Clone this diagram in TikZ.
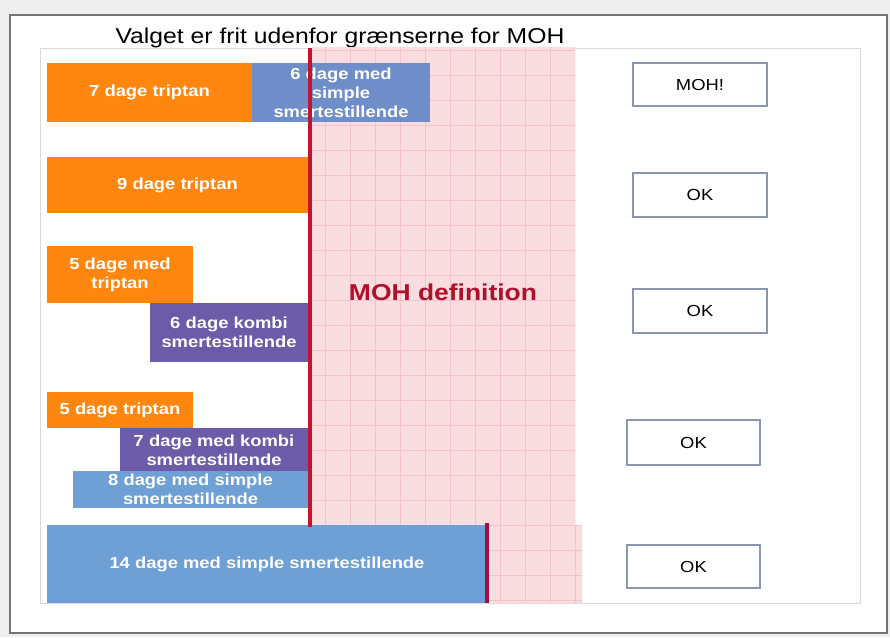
\documentclass[tikz,border=0pt]{standalone}
\usepackage{fontspec}
\setmainfont[FakeStretch=1.15]{Liberation Sans}
\definecolor{orng}{HTML}{FF860F}
\definecolor{purp}{HTML}{6B5BA8}
\definecolor{blueA}{HTML}{6F8DC8}
\definecolor{blueB}{HTML}{6E9FD5}
\definecolor{redl}{HTML}{C4122F}
\definecolor{redd}{HTML}{A0103A}
\definecolor{pinkf}{HTML}{FBDDE0}
\definecolor{pinkg}{HTML}{F3C3CA}
\definecolor{okline}{HTML}{8A96B0}
\definecolor{bggray}{HTML}{EFEFEF}
\begin{document}
\begin{tikzpicture}[x=1pt,y=-1pt,
  barbox/.style={draw=none,inner sep=0pt,align=center,text=white,
    font=\bfseries\fontsize{16}{19}\selectfont},
  okbox/.style={draw=okline,line width=1.2pt,fill=white,inner sep=0pt,
    font=\fontsize{16}{18}\selectfont},
  redline/.style={line width=4pt,draw=redl}]
\useasboundingbox (0,0) rectangle (890,637);
\fill[bggray] (0,0) rectangle (890,637);
% outer frame
\draw[fill=white,draw=black!55,line width=1.3pt] (10,15) rectangle (887,633);
% inner panel
\draw[draw=black!15,line width=0.8pt] (40,48) rectangle (860,603);
% title
\node[font=\fontsize{21.5}{24}\selectfont,anchor=base] (title) at (340,43) {Valget er frit udenfor grænserne for MOH};
% pink region
\begin{scope}
  \clip (312,47) rectangle (575,525) (489,525) rectangle (582,603);
  \fill[pinkf] (300,40) rectangle (600,610);
  \draw[pinkg!55,line width=0.3pt,step=5pt] (300,40) grid (600,610);
  \draw[pinkg,line width=0.5pt,step=25pt] (300,40) grid (600,610);
\end{scope}
\node[font=\bfseries\fontsize{23}{26}\selectfont,text=redl!90!black] (mohdef) at (443,292) {MOH definition};
% row 1
\node[barbox,fill=orng,minimum width=205pt,minimum height=59pt] (r1a) at (149.5,92.5) {7 dage triptan};
\node[barbox,fill=blueA,minimum width=178pt,minimum height=59pt] (r1b) at (341,92.5) {6 dage med\\simple\\smertestillende};
% row 2
\node[barbox,fill=orng,minimum width=261pt,minimum height=56pt] (r2a) at (177.5,185) {9 dage triptan};
% row 3
\node[barbox,fill=orng,minimum width=146pt,minimum height=57pt] (r3a) at (120,274.5) {5 dage med\\triptan};
\node[barbox,fill=purp,minimum width=158pt,minimum height=59pt] (r3b) at (229,332.5) {6 dage kombi\\smertestillende};
% row 4
\node[barbox,fill=orng,minimum width=146pt,minimum height=36pt] (r4a) at (120,410) {5 dage triptan};
\node[barbox,fill=purp,minimum width=188pt,minimum height=44pt] (r4b) at (214,450) {7 dage med kombi\\smertestillende};
\node[barbox,fill=blueB,minimum width=235pt,minimum height=37pt] (r4c) at (190.5,489.5) {8 dage med simple\\smertestillende};
% row 5
\node[barbox,fill=blueB,minimum width=440pt,minimum height=78pt] (r5a) at (267,564) {14 dage med simple smertestillende};
% red lines
\coordinate (l1t) at (310,48);
\coordinate (l1b) at (310,527);
\coordinate (l2t) at (487,523);
\coordinate (l2b) at (487,603);
\draw[redline] (l1t) -- (l1b);
\draw[redline,draw=redd] (l2t) -- (l2b);
% right boxes
\node[okbox,minimum width=134pt,minimum height=43pt] (ok0) at (700,84.5) {MOH!};
\node[okbox,minimum width=134pt,minimum height=44pt] (ok1) at (700,195) {OK};
\node[okbox,minimum width=134pt,minimum height=44pt] (ok2) at (700,311) {OK};
\node[okbox,minimum width=133pt,minimum height=45pt] (ok3) at (693.5,442.5) {OK};
\node[okbox,minimum width=133pt,minimum height=43pt] (ok4) at (693.5,566.5) {OK};
\end{tikzpicture}
\end{document}
